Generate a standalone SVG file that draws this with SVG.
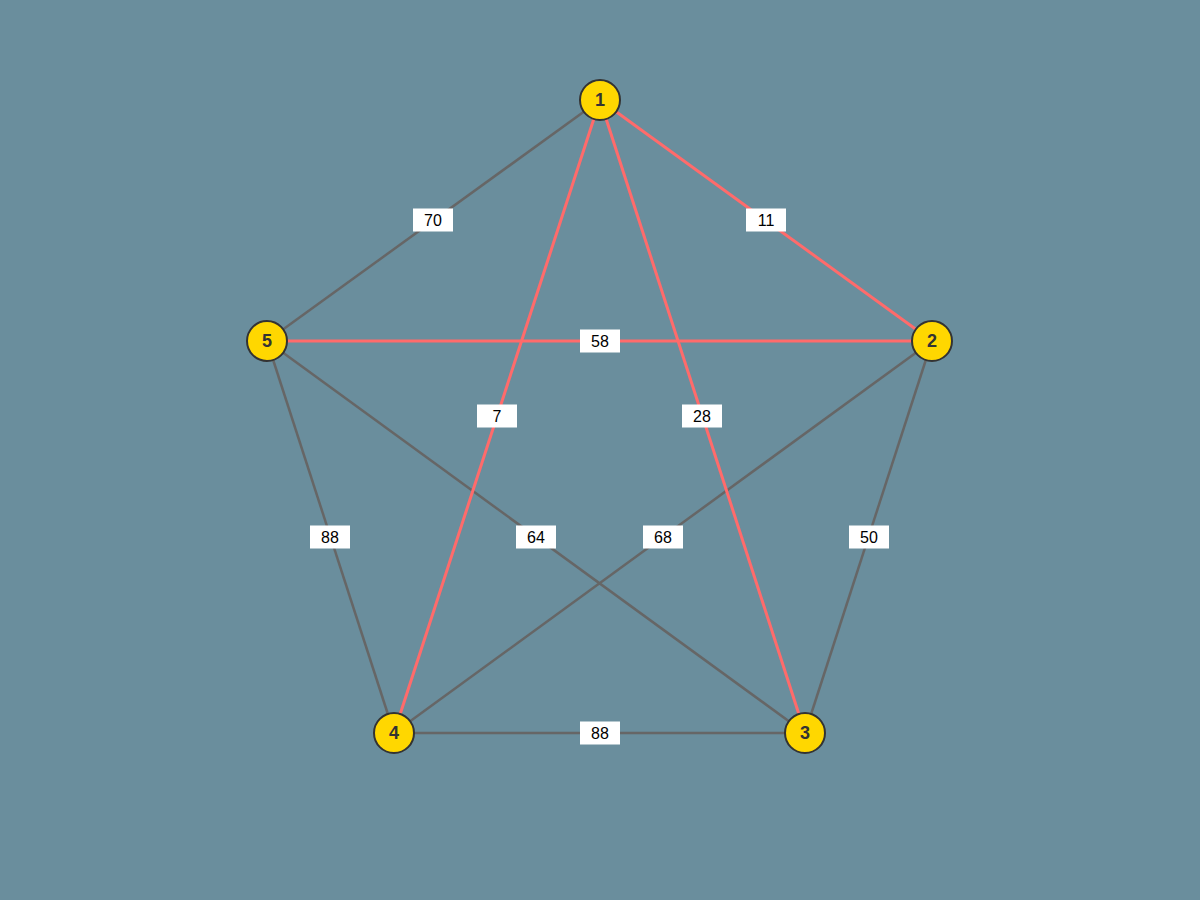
<svg xmlns="http://www.w3.org/2000/svg" width="1200" height="900" viewBox="0 0 1200 900">
<style>
.e{stroke:#666;stroke-width:2.5;fill:none}
.r{stroke:#ff6b6b;stroke-width:3;fill:none}
.lb{fill:#fff}
.lt{font-family:"Liberation Sans",Arial,sans-serif;font-size:16px;fill:#000;text-anchor:middle;dominant-baseline:central}
.n{fill:#ffd700;stroke:#333;stroke-width:2}
.nt{font-family:"Liberation Sans",Arial,sans-serif;font-size:18px;font-weight:bold;fill:#333;text-anchor:middle;dominant-baseline:central}
</style>
<rect width="1200" height="900" fill="#6a8e9d"/>
<g id="connectors">
<line class="e" x1="600" y1="100" x2="267" y2="341"/>
<line class="e" x1="267" y1="341" x2="394" y2="733"/>
<line class="e" x1="267" y1="341" x2="805" y2="733"/>
<line class="e" x1="932" y1="341" x2="394" y2="733"/>
<line class="e" x1="932" y1="341" x2="805" y2="733"/>
<line class="e" x1="394" y1="733" x2="805" y2="733"/>
<line class="r" x1="600" y1="100" x2="932" y2="341"/>
<line class="r" x1="267" y1="341" x2="932" y2="341"/>
<line class="r" x1="600" y1="100" x2="394" y2="733"/>
<line class="r" x1="600" y1="100" x2="805" y2="733"/>
<g id="edge-labels">
<rect class="lb" x="413" y="208.5" width="40" height="23"/><text class="lt" x="433" y="220">70</text>
<rect class="lb" x="746" y="208.5" width="40" height="23"/><text class="lt" x="766" y="220">11</text>
<rect class="lb" x="580" y="329.5" width="40" height="23"/><text class="lt" x="600" y="341">58</text>
<rect class="lb" x="477" y="404.5" width="40" height="23"/><text class="lt" x="497" y="416">7</text>
<rect class="lb" x="682" y="404.5" width="40" height="23"/><text class="lt" x="702" y="416">28</text>
<rect class="lb" x="310" y="525.5" width="40" height="23"/><text class="lt" x="330" y="537">88</text>
<rect class="lb" x="516" y="525.5" width="40" height="23"/><text class="lt" x="536" y="537">64</text>
<rect class="lb" x="643" y="525.5" width="40" height="23"/><text class="lt" x="663" y="537">68</text>
<rect class="lb" x="849" y="525.5" width="40" height="23"/><text class="lt" x="869" y="537">50</text>
<rect class="lb" x="580" y="721.5" width="40" height="23"/><text class="lt" x="600" y="733">88</text>
</g>
</g>
<g id="node1"><circle class="n" cx="600" cy="100" r="20"/><text class="nt" x="600" y="100">1</text></g>
<g id="node2"><circle class="n" cx="932" cy="341" r="20"/><text class="nt" x="932" y="341">2</text></g>
<g id="node3"><circle class="n" cx="805" cy="733" r="20"/><text class="nt" x="805" y="733">3</text></g>
<g id="node4"><circle class="n" cx="394" cy="733" r="20"/><text class="nt" x="394" y="733">4</text></g>
<g id="node5"><circle class="n" cx="267" cy="341" r="20"/><text class="nt" x="267" y="341">5</text></g>
</svg>
